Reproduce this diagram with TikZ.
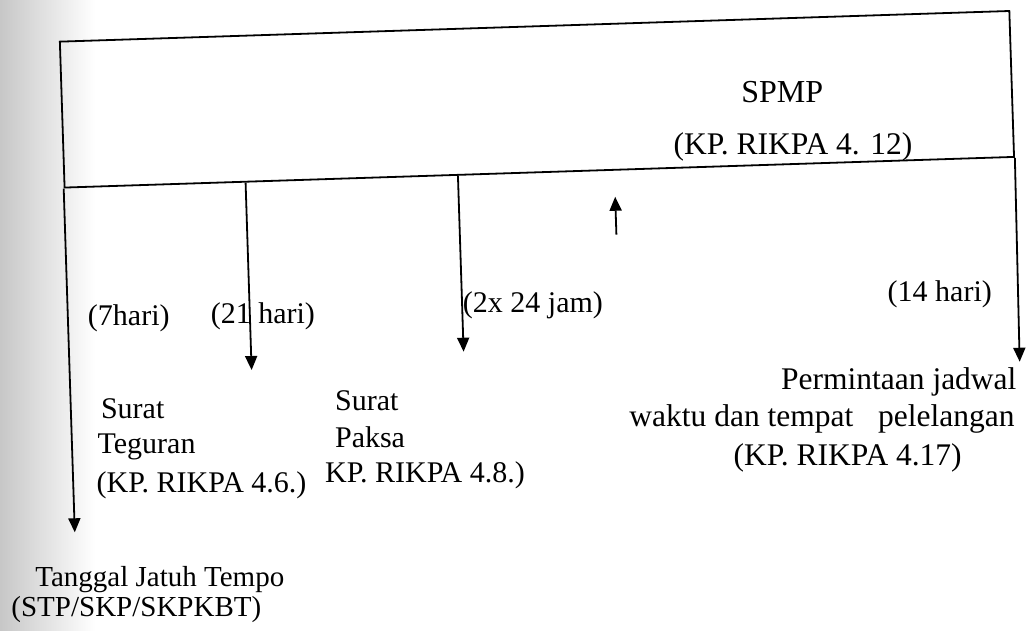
\documentclass[tikz,border=0pt]{standalone}
\usepackage{fontspec}
\setmainfont{Liberation Serif}
\usetikzlibrary{arrows.meta}
\begin{document}
\begin{tikzpicture}[x=1pt,y=1pt,
  ln/.style={line width=1.8pt, line join=miter},
  arr/.style={ln, -{Triangle[length=14pt,width=12pt]}},
  txt/.style={inner sep=0pt, font=\fontsize{30}{36}\selectfont},
  txtb/.style={inner sep=0pt, font=\fontsize{31.5}{38}\selectfont},
  txts/.style={inner sep=0pt, font=\fontsize{29}{35}\selectfont}]
\useasboundingbox (0,0) rectangle (1031,631);
\shade[left color=black!22, right color=white] (0,0) rectangle (95,631);
\begin{scope}[rotate around={1.85:(515,316)}]
  % main box
  \node[ln, draw, transform shape, anchor=south west, inner sep=0pt, minimum width=950pt, minimum height=146pt] (box) at (68,457) {};
  \node[txt, font=\fontsize{32}{38}\selectfont, anchor=base] (spmp) at (789,520) {SPMP};
  \node[txtb, anchor=base] (rik12) at (798,467) {(KP. RIKPA 4. 12)};
  % arrow end points
  \coordinate (tipL) at (68,113);
  \coordinate (tip21) at (250,269.5);
  \coordinate (tip2x) at (462.5,281);
  \coordinate (tipR) at (1018,253);
  \coordinate (upbase) at (619,393);
  \coordinate (uptip) at (619,431);
  % connectors
  \draw[arr] (box.south west) -- (tipL);
  \draw[arr] (box.south -| tip21) -- (tip21);
  \draw[arr] (box.south -| tip2x) -- (tip2x);
  \draw[arr] (box.south east) -- (tipR);
  \draw[arr] (upbase) -- (uptip);
  % durations
  \node[txt, anchor=base] (d7) at (128.6,317.5) {(7hari)};
  \node[txt, anchor=base] (d21) at (262.7,316) {(21 hari)};
  \node[txt, anchor=base] (d2x) at (533,317.7) {(2x 24 jam)};
  \node[txt, anchor=base] (d14) at (940,315.3) {(14 hari)};
  % Surat Teguran
  \node[txt, anchor=base west] (teg1) at (97.7,226.4) {Surat};
  \node[txt, anchor=base west] (teg2) at (93.2,191.5) {Teguran};
  \node[txt, anchor=base west] (teg3) at (91,152.5) {(KP. RIKPA 4.6.)};
  % Surat Paksa
  \node[txt, anchor=base west] (pak1) at (332,226.8) {Surat};
  \node[txt, anchor=base west] (pak2) at (330.7,189.8) {Paksa};
  \node[txt, anchor=base west] (pak3) at (319.6,155) {KP. RIKPA 4.8.)};
  % Permintaan
  \node[txtb, anchor=base east] (per1) at (1014,225.6) {Permintaan jadwal};
  \node[txtb, anchor=base east] (per2) at (1011,188.6) {waktu dan tempat\hspace{17pt} pelelangan};
  \node[txtb, anchor=base] (per3) at (842.7,155.3) {(KP. RIKPA 4.17)};
  % Tanggal jatuh tempo
  \node[txts, anchor=base] (tjt1) at (151.2,55.8) {Tanggal Jatuh Tempo};
  \node[txts, anchor=base] (tjt2) at (126.8,26.5) {(STP/SKP/SKPKBT)};
\end{scope}
\end{tikzpicture}
\end{document}
